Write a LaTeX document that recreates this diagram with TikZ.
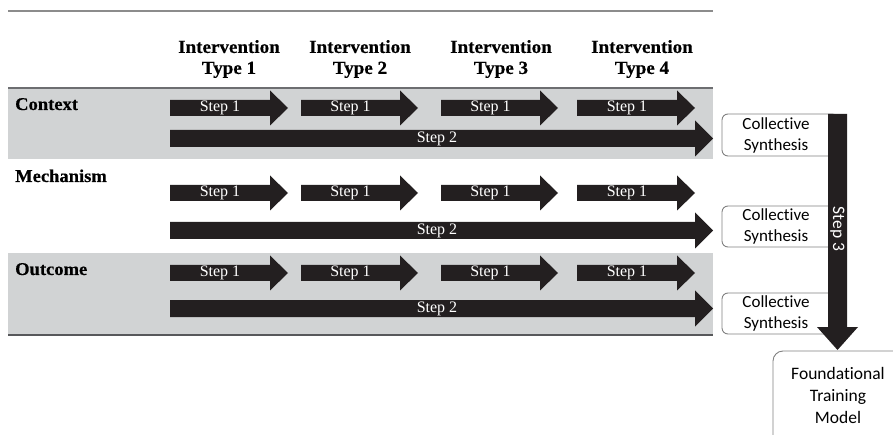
\documentclass[tikz,border=0pt]{standalone}
\usepackage{fontspec}
\setmainfont{Liberation Serif}
\newfontfamily\hdfont[FakeStretch=1.03,FakeBold=0.4]{Liberation Serif}
\newfontfamily\stepfont{Liberation Serif}
\newfontfamily\calfont[RawFeature={-liga;-clig;-dlig}]{Carlito}
\definecolor{band}{HTML}{D1D3D4}
\definecolor{arr}{HTML}{231F20}
\definecolor{rule}{HTML}{8C8C8C}
\definecolor{rule2}{HTML}{6D6E71}
\definecolor{boxline}{HTML}{808080}
\tikzset{
  hdr/.style={align=center, font=\hdfont\bfseries\fontsize{18.5}{21}\selectfont, inner sep=0pt},
  rowlabel/.style={anchor=base west, font=\hdfont\bfseries\fontsize{18}{20}\selectfont, inner sep=0pt},
  steptext/.style={text=white, font=\stepfont\fontsize{16}{18}\selectfont, inner sep=0pt},
  synth/.style={draw=boxline, line width=0.9pt, rounded corners=6pt, fill=white},
  synthtext/.style={align=center, font=\calfont\fontsize{17}{21}\selectfont, inner sep=0pt},
}
% short arrow: x1, x2, ycenter, name
\newcommand{\shortarrow}[4]{%
  \fill[arr] (#1,#3-8) -- (#2-18,#3-8) -- (#2-18,#3-17.5) -- (#2,#3) -- (#2-18,#3+17.5) -- (#2-18,#3+8) -- (#1,#3+8) -- cycle;
  \node[steptext] (#4) at ({(#1+#2-18)/2},#3) {Step 1};}
\newcommand{\longarrow}[3]{%
  \fill[arr] (170,#1-8.5) -- (695,#1-8.5) -- (695,#1-18) -- (713,#1) -- (695,#1+18) -- (695,#1+8.5) -- (170,#1+8.5) -- cycle;
  \node[steptext] (#2) at (437,#1) {#3};}
\begin{document}
\begin{tikzpicture}[x=1pt,y=-1pt]
\useasboundingbox (0,0) rectangle (893,435);
\clip (0,0) rectangle (893,435);
% rules and bands
\draw[rule, line width=2pt] (8,11) -- (713,11);
\fill[band] (8,88) rectangle (713,159);
\draw[rule2, line width=1.3pt] (8,88) -- (713,88);
\fill[band] (8,253) rectangle (713,335);
\draw[rule2!80!black, line width=1.3pt] (8,335) -- (713,335);
% headers
\node[hdr] (h1) at (229,59) {Intervention\\Type 1};
\node[hdr] (h2) at (360,59) {Intervention\\Type 2};
\node[hdr] (h3) at (501,59) {Intervention\\Type 3};
\node[hdr] (h4) at (642,59) {Intervention\\Type 4};
% row labels
\node[rowlabel] (lc) at (15,110) {Context};
\node[rowlabel] (lm) at (15,182) {Mechanism};
\node[rowlabel] (lo) at (15,275) {Outcome};
% step 1 arrows
\foreach \y/\r in {108/c,193/m,273/o}{
  \shortarrow{170}{288}{\y}{s1\r}
  \shortarrow{301}{418}{\y}{s2\r}
  \shortarrow{441}{558}{\y}{s3\r}
  \shortarrow{577}{695}{\y}{s4\r}
}
% step 2 arrows
\longarrow{138.5}{t2c}{Step 2}
\longarrow{230.5}{t2m}{Step 2}
\longarrow{308.5}{t2o}{Step 2}
% collective synthesis boxes
\draw[synth] (722,114) rectangle (838,156);
\node[synthtext] (cs1) at (776,135) {Collective\\Synthesis};
\draw[synth] (722,206) rectangle (838,247);
\node[synthtext] (cs2) at (776,226.5) {Collective\\Synthesis};
\draw[synth] (722,293) rectangle (838,334);
\node[synthtext] (cs3) at (776,313.5) {Collective\\Synthesis};
% step 3 vertical arrow
\fill[arr] (828,114) -- (847,114) -- (847,327) -- (858,327) -- (837.5,350) -- (817,327) -- (828,327) -- cycle;
\node[text=white, rotate=-90, font=\calfont\fontsize{17.5}{19}\selectfont, inner sep=0pt] (s3) at (837.5,229) {Step 3};
% foundational training model
\draw[synth, rounded corners=10pt] (773,351) rectangle (915,455);
\node[synthtext, font=\calfont\fontsize{17.5}{22}\selectfont] (ftm) at (838,395) {Foundational\\Training\\Model};
\end{tikzpicture}
\end{document}
